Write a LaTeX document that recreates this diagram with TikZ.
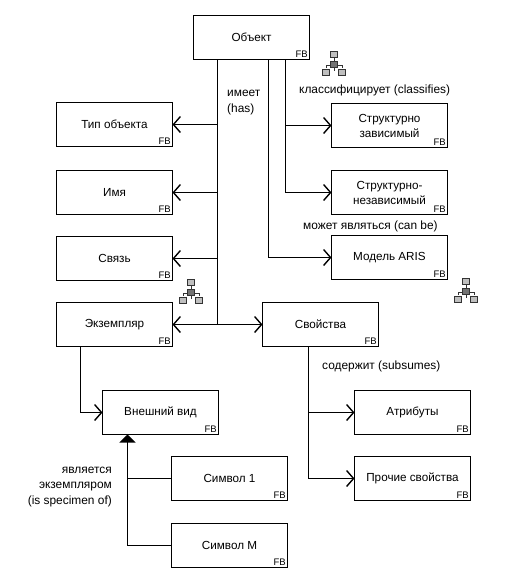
\documentclass[tikz,border=0pt]{standalone}
\usepackage{fontspec}
\setmainfont{Liberation Sans}
\usetikzlibrary{arrows.meta}
\tikzset{
  x=1pt,y=-1pt,
  box/.style={draw=black,line width=1.8pt,minimum width=116pt,minimum height=44pt,inner sep=0pt,outer sep=0pt,font=\fontsize{11.7}{15}\selectfont,align=center,fill=white},
  fb/.style={font=\fontsize{9.5}{10}\selectfont,inner sep=1.5pt,anchor=south east},
  conn/.style={draw=black,line width=1.8pt},
  open/.style={conn,-{Straight Barb[length=7pt,width=16pt,line width=1.4pt]}},
  solid tip/.style={conn,-{Triangle[length=8pt,width=16pt]}},
  lbl/.style={font=\fontsize{11.9}{15.5}\selectfont,inner sep=0pt},
  ic/.style={draw=black!80,line width=.5pt,fill=black!25,minimum width=7pt,minimum height=5.5pt,inner sep=0pt},
  pics/hier/.style={code={
    \draw[black!80,line width=.6pt] (0,-8)--(0,8) (-8,5)--(-8,2)--(8,2)--(8,5);
    \node[ic] at (0,-9){};
    \node[ic,fill=black!55] at (0,1){};
    \node[ic] at (-8,9){};
    \node[ic] at (8,9){};
  }}
}
\newcommand{\fbbox}[3]{\node[box] (#1) at (#2) {#3}; \node[fb] (#1fb) at (#1.south east) {FB};}
\begin{document}
\begin{tikzpicture}
\useasboundingbox (0,0) rectangle (523,574);
\fbbox{obj}{251.5,37.5}{Объект}
\fbbox{typ}{114.5,124.5}{Тип объекта}
\fbbox{name}{114.5,192.5}{Имя}
\fbbox{link}{114.5,258.5}{Связь}
\fbbox{inst}{114.5,324.5}{Экземпляр}
\fbbox{sdep}{389.5,125.5}{Структурно\\зависимый}
\fbbox{sind}{389.5,192.5}{Структурно-\\независимый}
\fbbox{aris}{389.5,257.5}{Модель ARIS}
\fbbox{prop}{320.5,324.5}{Свойства}
\fbbox{look}{160.5,412.5}{Внешний вид}
\fbbox{attr}{412.5,412.5}{Атрибуты}
\fbbox{other}{412.5,478.5}{Прочие свойства}
\fbbox{sym1}{229.5,478.5}{Символ 1}
\fbbox{symm}{229.5,545.5}{Символ М}

\coordinate (hub) at (217.5,324.5);
\coordinate (cls) at (285.5,125.5);
\coordinate (can) at (268.5,257.5);
\coordinate (sub) at (308.5,412.5);
\coordinate (spec) at (127.5,478.5);
\coordinate (instdrop) at (80.5,412.5);

% has
\draw[conn] (obj.south -| hub) -- (hub);
\draw[open] (hub |- typ.east) -- (typ.east);
\draw[open] (hub |- name.east) -- (name.east);
\draw[open] (hub |- link.east) -- (link.east);
\draw[open] (hub) -- (inst.east);
\draw[open] (hub) -- (prop.west);
% classifies
\draw[conn] (obj.south -| cls) -- (cls |- sind.west);
\draw[open] (cls) -- (sdep.west);
\draw[open] (cls |- sind.west) -- (sind.west);
% can be
\draw[open] (obj.south -| can) -- (can |- aris.west) -- (aris.west);
% subsumes
\draw[conn] (prop.south -| sub) -- (sub |- other.west);
\draw[open] (sub) -- (attr.west);
\draw[open] (sub |- other.west) -- (other.west);
% instance to appearance
\draw[open] (inst.south -| instdrop) -- (instdrop) -- (look.west);
% specimen
\draw[solid tip] (symm.west -| spec) -- (look.south -| spec);
\draw[conn] (symm.west) -- (symm.west -| spec);
\draw[conn] (sym1.west) -- (spec);

\node[lbl,align=left,anchor=north west] (lhas) at (227,90) {имеет\\(has)};
\node[lbl,anchor=west] (lcls) at (299,90.5) {классифицирует (classifies)};
\node[lbl,anchor=west] (lcan) at (303,226) {может являться (can be)};
\node[lbl,anchor=west] (lsub) at (322,366.5) {содержит (subsumes)};
\node[lbl,align=right,anchor=east] (lspec) at (112,487) {является\\экземпляром\\(is specimen of)};

\pic at (334,63) {hier};
\pic at (191,291) {hier};
\pic at (466,290) {hier};
\end{tikzpicture}
\end{document}
